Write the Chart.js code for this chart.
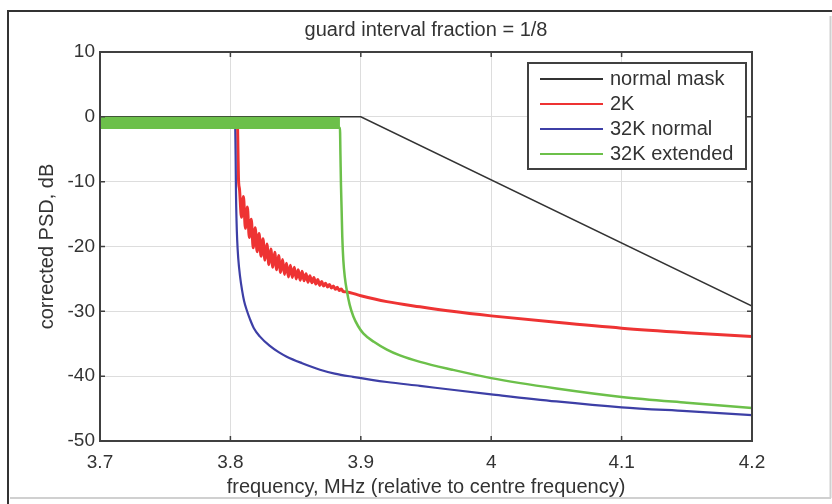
<!DOCTYPE html>
<html>
<head>
<meta charset="utf-8">
<script src="https://cdn.jsdelivr.net/npm/chart.js@4.4.0/dist/chart.umd.min.js"></script>
<style>
  body { margin: 0; background: #fff; }
  #psd { display: block; }
</style>
</head>
<body>
<canvas id="psd" width="832" height="504"></canvas>
<script>
var xTicks = [3.7, 3.8, 3.9, 4.0, 4.1, 4.2];
var xTickLabels = ['3.7', '3.8', '3.9', '4', '4.1', '4.2'];
var yTicks = [-50, -40, -30, -20, -10, 0, 10];

var seriesNames = ['normal mask', '2K', '32K normal', '32K extended'];
var seriesColors = ['#333333', '#ee3333', '#3d3fa6', '#6cc04a'];

// normal mask
var maskFreq = [3.7, 3.9, 4.2];
var maskPsd = [0, 0, -29.2];

// 2K (rippled roll-off)
var k2Freq = [3.7, 3.8054, 3.8058, 3.8062, 3.8070, 3.8085, 3.8100, 3.8115, 3.8130, 3.8145,
  3.8160, 3.8175, 3.8190, 3.8205, 3.8220, 3.8235, 3.8250, 3.8265, 3.8280, 3.8295,
  3.8310, 3.8325, 3.8340, 3.8355, 3.8370, 3.8385, 3.8400, 3.8415, 3.8430, 3.8445,
  3.8460, 3.8475, 3.8490, 3.8505, 3.8520, 3.8535, 3.8550, 3.8565, 3.8580, 3.8595,
  3.8610, 3.8625, 3.8640, 3.8655, 3.8670, 3.8685, 3.8700, 3.8715, 3.8730, 3.8745,
  3.8760, 3.8775, 3.8790, 3.8805, 3.8820, 3.8835, 3.8850, 3.8865, 3.8892, 3.9000,
  3.9200, 3.9454, 3.9700, 4.0000, 4.0500, 4.1000, 4.1500, 4.2000];
var k2Psd = [-1.2, -1.2, -5, -9.5, -11.2, -15.5, -12.3, -17.2, -13.9, -18.6,
  -15.8, -20.2, -17.1, -20.8, -18.0, -21.5, -18.8, -22.1, -19.6, -22.8,
  -20.4, -23.2, -20.9, -23.6, -21.4, -24.0, -22.0, -24.3, -22.6, -24.7,
  -22.9, -24.8, -23.2, -25.0, -23.6, -25.2, -23.8, -25.3, -24.2, -25.5,
  -24.5, -25.6, -24.8, -25.8, -25.1, -26.0, -25.4, -26.1, -25.65, -26.25,
  -25.85, -26.4, -26.1, -26.6, -26.3, -26.8, -26.55, -26.95, -27.0, -27.6,
  -28.5, -29.3, -30.0, -30.7, -31.7, -32.6, -33.3, -33.9];

// 32K normal
var k32nFreq = [3.7, 3.8036, 3.8040, 3.8043, 3.8047, 3.8052, 3.8060, 3.8074, 3.8090, 3.8105,
  3.8125, 3.8150, 3.8180, 3.8227, 3.8300, 3.8370, 3.8432, 3.8550, 3.8687, 3.8800,
  3.8940, 3.9200, 3.9454, 3.9700, 4.0000, 4.0500, 4.1000, 4.1500, 4.2000];
var k32nPsd = [-1.2, -1.2, -6, -12, -16, -19, -21.8, -24.6, -26.8, -28.4,
  -29.8, -31.2, -32.6, -33.9, -35.3, -36.3, -37.0, -38.0, -39.0, -39.6,
  -40.1, -40.9, -41.5, -42.1, -42.8, -43.9, -44.8, -45.4, -46.0];

// 32K extended
var k32eFreq = [3.7, 3.8840, 3.8844, 3.8848, 3.8853, 3.8858, 3.8866, 3.8878, 3.8892, 3.8915,
  3.8943, 3.8980, 3.9019, 3.9100, 3.9200, 3.9300, 3.9454, 3.9700, 4.0000, 4.0500,
  4.1000, 4.1500, 4.2000];
var k32ePsd = [-1.7, -1.7, -6, -10.5, -14.4, -18.5, -22.1, -24.8, -26.7, -29.0,
  -30.8, -32.3, -33.4, -34.7, -35.9, -36.8, -37.8, -39.0, -40.3, -41.9,
  -43.2, -44.1, -44.9];

// in-band ripple envelope of the 32K extended curve
var bandFreq = [3.7, 3.884];
var bandUpper = [0, 0];
var bandLower = [-1.7, -1.7];

function pts(f, v) {
  return f.map(function (x, i) { return { x: x, y: v[i] }; });
}

Chart.defaults.font.family = "'Liberation Sans', Arial, sans-serif";
Chart.defaults.color = '#333';

var figurePlugin = {
  id: 'figure',
  beforeDraw: function (chart) {
    var ctx = chart.ctx;
    ctx.save();
    ctx.fillStyle = '#fff';
    ctx.fillRect(0, 0, chart.width, chart.height);
    ctx.strokeStyle = '#d0d0d0';
    ctx.lineWidth = 2;
    ctx.beginPath();
    ctx.moveTo(10, 498); ctx.lineTo(831, 498);
    ctx.moveTo(830.5, 16); ctx.lineTo(830.5, 498);
    ctx.stroke();
    ctx.strokeStyle = '#333';
    ctx.lineWidth = 2;
    ctx.beginPath();
    ctx.moveTo(8, 504); ctx.lineTo(8, 11); ctx.lineTo(832, 11);
    ctx.stroke();
    ctx.restore();
  },
  afterDatasetsDraw: function (chart) {
    var ctx = chart.ctx;
    var a = chart.chartArea;
    var xs = chart.scales.x, ys = chart.scales.y;
    ctx.save();
    ctx.strokeStyle = '#404040';
    ctx.lineWidth = 1.5;
    ctx.beginPath();
    xTicks.forEach(function (v) {
      var px = xs.getPixelForValue(v);
      ctx.moveTo(px, a.bottom); ctx.lineTo(px, a.bottom - 5);
      ctx.moveTo(px, a.top); ctx.lineTo(px, a.top + 5);
    });
    yTicks.forEach(function (v) {
      var py = ys.getPixelForValue(v);
      ctx.moveTo(a.left, py); ctx.lineTo(a.left + 5, py);
      ctx.moveTo(a.right, py); ctx.lineTo(a.right - 5, py);
    });
    ctx.stroke();
    ctx.lineWidth = 2;
    ctx.strokeRect(a.left, a.top, a.right - a.left, a.bottom - a.top);
    ctx.restore();
  },
  afterDraw: function (chart) {
    var ctx = chart.ctx;
    ctx.save();
    ctx.fillStyle = '#fff';
    ctx.fillRect(528, 63, 218, 106);
    ctx.strokeStyle = '#404040';
    ctx.lineWidth = 2;
    ctx.strokeRect(528, 63, 218, 106);
    ctx.font = "20px 'Liberation Sans', Arial, sans-serif";
    ctx.textBaseline = 'middle';
    seriesNames.forEach(function (name, i) {
      var y = 79 + i * 25;
      ctx.strokeStyle = seriesColors[i];
      ctx.lineWidth = 2;
      ctx.beginPath();
      ctx.moveTo(540, y); ctx.lineTo(603, y);
      ctx.stroke();
      ctx.fillStyle = '#333';
      ctx.fillText(name, 610, y);
    });
    ctx.restore();
  }
};

new Chart('psd', {
  type: 'line',
  data: {
    datasets: [
      { label: seriesNames[0], data: pts(maskFreq, maskPsd), borderColor: seriesColors[0],
        borderWidth: 1.5, pointRadius: 0, tension: 0, order: 4 },
      { label: seriesNames[1], data: pts(k2Freq, k2Psd), borderColor: seriesColors[1],
        borderWidth: 3, pointRadius: 0, cubicInterpolationMode: 'monotone',
        borderJoinStyle: 'round', order: 3 },
      { label: seriesNames[2], data: pts(k32nFreq, k32nPsd), borderColor: seriesColors[2],
        borderWidth: 2.2, pointRadius: 0, cubicInterpolationMode: 'monotone', order: 2 },
      { label: seriesNames[3], data: pts(k32eFreq, k32ePsd), borderColor: seriesColors[3],
        borderWidth: 2.5, pointRadius: 0, cubicInterpolationMode: 'monotone', order: 1 },
      { label: '', data: pts(bandFreq, bandUpper), borderWidth: 0, pointRadius: 0,
        backgroundColor: seriesColors[3], fill: '+1', order: 0 },
      { label: '', data: pts(bandFreq, bandLower), borderWidth: 0, pointRadius: 0,
        fill: false, order: 0 }
    ]
  },
  options: {
    responsive: false,
    animation: false,
    layout: { padding: { left: 0, right: 80, top: 0, bottom: 0 } },
    plugins: {
      legend: { display: false },
      tooltip: { enabled: false },
      title: {
        display: true,
        fullSize: false,
        text: 'guard interval fraction = 1/8',
        font: { size: 20, weight: 'normal' },
        color: '#333',
        padding: { top: 18, bottom: 10 }
      }
    },
    scales: {
      x: {
        type: 'linear',
        min: 3.7,
        max: 4.2,
        afterBuildTicks: function (scale) {
          scale.ticks = xTicks.map(function (v) { return { value: v }; });
        },
        afterFit: function (scale) { scale.height = 63; },
        ticks: {
          maxRotation: 0,
          padding: 10,
          font: { size: 19 },
          color: '#333',
          callback: function (value, index) { return xTickLabels[index]; }
        },
        grid: { color: '#dddddd', lineWidth: 1, drawTicks: false },
        border: { display: false },
        title: {
          display: true,
          text: 'frequency, MHz (relative to centre frequency)',
          font: { size: 20 },
          color: '#333',
          padding: { top: 0, bottom: 5 }
        }
      },
      y: {
        min: -50,
        max: 10,
        afterBuildTicks: function (scale) {
          scale.ticks = yTicks.map(function (v) { return { value: v }; });
        },
        afterFit: function (scale) { scale.width = 100; },
        ticks: {
          padding: 5,
          font: { size: 19 },
          color: '#333',
          callback: function (value) { return String(value); }
        },
        grid: { color: '#dddddd', lineWidth: 1, drawTicks: false },
        border: { display: false },
        title: {
          display: true,
          text: 'corrected PSD, dB',
          font: { size: 20 },
          color: '#333',
          padding: { top: 35, bottom: 0 }
        }
      }
    }
  },
  plugins: [figurePlugin]
});
</script>
</body>
</html>
